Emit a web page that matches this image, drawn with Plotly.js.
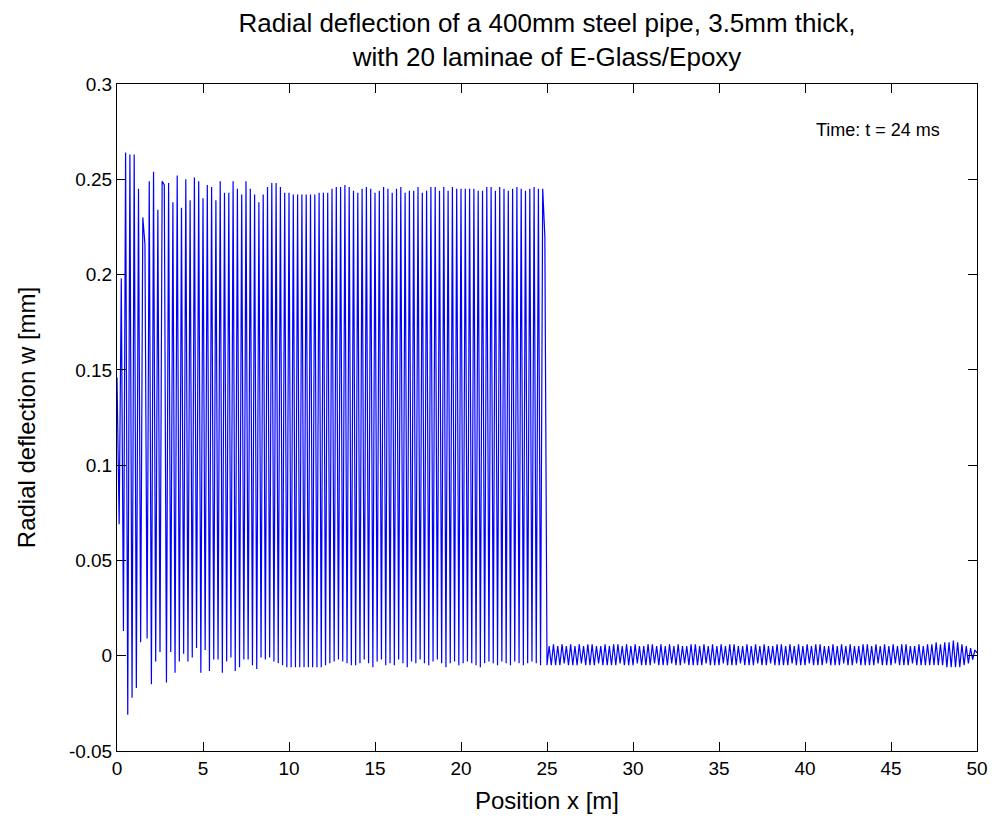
<!DOCTYPE html>
<html>
<head>
<meta charset="utf-8">
<script src="https://cdn.plot.ly/plotly-3.0.1.min.js"></script>
<style>html,body{margin:0;padding:0;background:#fff;}#chart{width:994px;height:819px;}</style>
</head>
<body>
<div id="chart"></div>
<script>
// Sampling grid of the position axis [m]
const xStart = 0;
const xStep = 0.125;

// Radial deflection w [mm], pipe section with large oscillation (0 .. 24.875 m)
const wFirstHalf = [
  0.146, 0.069, 0.198, 0.013, 0.264, -0.031, 0.263, -0.022, 0.263, -0.017,
  0.245, 0.007, 0.230, 0.216, 0.009, 0.249, -0.015, 0.254, -0.003, 0.234,
  0.002, 0.249, 0.247, -0.014, 0.248, 0.002, 0.238, -0.009, 0.252, -0.003,
  0.235, 0.001, 0.250, -0.003, 0.239, -0.001, 0.251, 0.004, 0.249, -0.009,
  0.240, 0.003, 0.247, -0.008, 0.246, -0.002, 0.239, -0.002, 0.249, -0.009,
  0.243, -0.003, 0.243, -0.001, 0.249, -0.008, 0.245, -0.006, 0.242, -0.002,
  0.249, -0.002, 0.245, -0.005, 0.242, -0.007, 0.238, -0.001, 0.242, -0.002,
  0.246, -0.001, 0.248, -0.003, 0.248, -0.004, 0.246, -0.005, 0.243, -0.006,
  0.243, -0.006, 0.242, -0.006, 0.242, -0.006, 0.242, -0.006, 0.242, -0.006,
  0.242, -0.006, 0.242, -0.006, 0.243, -0.006, 0.243, -0.005, 0.243, -0.004,
  0.245, -0.003, 0.246, -0.002, 0.246, -0.003, 0.247, -0.004, 0.246, -0.005,
  0.244, -0.005, 0.243, -0.004, 0.245, -0.002, 0.246, -0.004, 0.245, -0.006,
  0.243, -0.003, 0.244, -0.002, 0.246, -0.005, 0.245, -0.004, 0.243, -0.005,
  0.245, -0.002, 0.246, -0.004, 0.243, -0.006, 0.244, -0.003, 0.244, -0.004,
  0.246, -0.002, 0.243, -0.004, 0.244, -0.005, 0.246, -0.003, 0.246, -0.002,
  0.244, -0.004, 0.246, -0.006, 0.244, -0.004, 0.246, -0.003, 0.245, -0.005,
  0.245, -0.004, 0.245, -0.003, 0.245, -0.004, 0.245, -0.005, 0.244, -0.006,
  0.244, -0.004, 0.246, -0.003, 0.246, -0.004, 0.244, -0.005, 0.246, -0.003,
  0.245, -0.004, 0.244, -0.005, 0.245, -0.003, 0.246, -0.004, 0.245, -0.005,
  0.244, -0.004, 0.245, -0.003, 0.246, -0.004, 0.245, -0.005, 0.245, 0.220
];

// Radial deflection w [mm], section with small oscillation (25 .. 50 m)
const wSecondHalf = [
  -0.005, 0.005, -0.005, 0.006, -0.005, 0.005, -0.005, 0.006, -0.004, 0.005,
  -0.005, 0.006, -0.005, 0.005, -0.005, 0.006, -0.004, 0.005, -0.005, 0.006,
  -0.005, 0.006, -0.005, 0.005, -0.004, 0.005, -0.005, 0.006, -0.005, 0.005,
  -0.005, 0.006, -0.005, 0.006, -0.004, 0.005, -0.005, 0.006, -0.005, 0.005,
  -0.005, 0.006, -0.004, 0.005, -0.005, 0.005, -0.005, 0.006, -0.005, 0.006,
  -0.004, 0.005, -0.005, 0.006, -0.005, 0.005, -0.005, 0.006, -0.004, 0.005,
  -0.005, 0.006, -0.005, 0.005, -0.004, 0.005, -0.005, 0.006, -0.005, 0.006,
  -0.005, 0.005, -0.005, 0.006, -0.004, 0.005, -0.005, 0.006, -0.005, 0.005,
  -0.005, 0.006, -0.004, 0.005, -0.005, 0.006, -0.005, 0.006, -0.005, 0.005,
  -0.004, 0.005, -0.005, 0.006, -0.005, 0.005, -0.005, 0.006, -0.004, 0.005,
  -0.005, 0.006, -0.005, 0.005, -0.004, 0.005, -0.005, 0.006, -0.005, 0.006,
  -0.005, 0.005, -0.005, 0.006, -0.004, 0.005, -0.005, 0.006, -0.005, 0.005,
  -0.005, 0.006, -0.004, 0.005, -0.005, 0.006, -0.005, 0.006, -0.005, 0.005,
  -0.004, 0.005, -0.005, 0.006, -0.005, 0.005, -0.005, 0.006, -0.004, 0.005,
  -0.005, 0.006, -0.005, 0.005, -0.004, 0.005, -0.005, 0.006, -0.005, 0.006,
  -0.005, 0.005, -0.005, 0.006, -0.004, 0.005, -0.005, 0.006, -0.005, 0.005,
  -0.005, 0.006, -0.004, 0.005, -0.005, 0.006, -0.005, 0.006, -0.005, 0.005,
  -0.004, 0.005, -0.005, 0.006, -0.005, 0.005, -0.005, 0.006, -0.005, 0.006,
  -0.005, 0.007, -0.005, 0.006, -0.005, 0.007, -0.006, 0.007, -0.006, 0.008,
  -0.006, 0.007, -0.006, 0.006, -0.005, 0.005, -0.004, 0.004, -0.002, 0.003,
  0.0015
];

// Axis ticks
const xTickVals = [0, 5, 10, 15, 20, 25, 30, 35, 40, 45, 50];
const xTickText = ['0', '5', '10', '15', '20', '25', '30', '35', '40', '45', '50'];
const yTickVals = [-0.05, 0, 0.05, 0.1, 0.15, 0.2, 0.25, 0.3];
const yTickText = ['-0.05', '0', '0.05', '0.1', '0.15', '0.2', '0.25', '0.3'];

const wValues = wFirstHalf.concat(wSecondHalf);
const xValues = wValues.map((_, i) => xStart + i * xStep);

const FONT = 'Liberation Sans, Arial, Helvetica, sans-serif';

const trace = {
  type: 'scatter',
  mode: 'lines',
  x: xValues,
  y: wValues,
  line: {color: '#0000ff', width: 1.2},
  hoverinfo: 'skip'
};

const axisCommon = {
  showline: true,
  linecolor: '#000',
  linewidth: 1,
  mirror: 'ticks',
  ticks: 'inside',
  ticklen: 9,
  tickwidth: 1,
  tickcolor: '#000',
  showgrid: false,
  zeroline: false,
  tickfont: {family: FONT, size: 19, color: '#000'}
};

const layout = {
  width: 994,
  height: 819,
  paper_bgcolor: '#fff',
  plot_bgcolor: '#fff',
  showlegend: false,
  margin: {l: 117, r: 17, t: 84, b: 68},
  title: {
    text: 'Radial deflection of a 400mm steel pipe, 3.5mm thick,<br>with 20 laminae of E-Glass/Epoxy',
    font: {family: FONT, size: 26, color: '#000'},
    x: 0.5, xref: 'paper', xanchor: 'center',
    y: 0.961, yref: 'container', yanchor: 'top'
  },
  xaxis: Object.assign({}, axisCommon, {
    range: [0, 50],
    tickmode: 'array', tickvals: xTickVals, ticktext: xTickText,
    title: {text: 'Position x [m]', font: {family: FONT, size: 24, color: '#000'}, standoff: 14}
  }),
  yaxis: Object.assign({}, axisCommon, {
    range: [-0.05, 0.3],
    tickmode: 'array', tickvals: yTickVals, ticktext: yTickText,
    title: {text: 'Radial deflection w [mm]', font: {family: FONT, size: 24, color: '#000'}, standoff: 26}
  }),
  annotations: [{
    text: 'Time: t = 24 ms',
    xref: 'paper', yref: 'paper',
    x: 0.959, y: 0.931,
    xanchor: 'right', yanchor: 'middle',
    showarrow: false,
    font: {family: FONT, size: 18, color: '#000'}
  }]
};

Plotly.newPlot('chart', [trace], layout, {displayModeBar: false, staticPlot: true});
</script>
</body>
</html>
